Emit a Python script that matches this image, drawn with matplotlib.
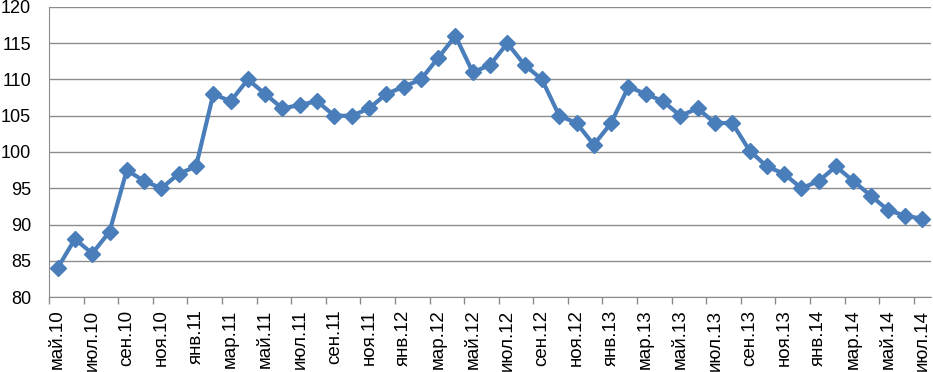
import numpy as np
import matplotlib
matplotlib.use("Agg")
import matplotlib.pyplot as plt

plt.rcParams['font.family'] = ['Liberation Sans', 'DejaVu Sans']

# monthly index values, май.10 .. июл.14
months = ["янв", "фев", "мар", "апр", "май", "июн", "июл", "авг",
          "сен", "окт", "ноя", "дек"]
start_year = 10
start_month = 4  # "май"
values = [84, 88, 86, 89, 97.5, 96, 95, 97, 98, 108, 107, 110, 108, 106, 106.5, 107,
          105, 105, 106, 108, 109, 110, 113, 116, 111, 112, 115, 112, 110, 105,
          104, 101, 104, 109, 108, 107, 105, 106, 104, 104, 100.2, 98, 97, 95,
          96, 98, 96, 94, 92, 91.2, 90.8]

labels = []
for i in range(len(values)):
    m = (start_month + i) % 12
    y = start_year + (start_month + i) // 12
    labels.append("%s.%d" % (months[m], y))

x = np.arange(len(values))

fig = plt.figure(figsize=(9.33, 3.72), dpi=100)
ax = fig.add_axes([0.0525, 0.2016, 0.9455, 0.7796])

ax.plot(x, values, color="#4A7EBB", lw=3.0, marker="D", markersize=8.5,
        markeredgecolor="#4A7EBB", markerfacecolor="#4A7EBB", zorder=3)

ax.set_ylim(80, 120)
ax.set_yticks(np.arange(80, 121, 5))
ax.yaxis.grid(True, color="#8C8C8C", lw=1.0)
ax.set_axisbelow(True)
ax.tick_params(axis="y", length=0, pad=13, labelsize=13)

ax.set_xlim(-0.5, len(values) - 0.5)
ax.set_xticks(x[::2])
ax.set_xticklabels(labels[::2], rotation=90, fontsize=13.5)
ax.set_xticks(np.arange(-0.5, len(values) - 0.5, 2), minor=True)
ax.tick_params(axis="x", which="major", length=0, pad=9)
ax.tick_params(axis="x", which="minor", length=5, color="#8C8C8C", width=1)

for s in ["top", "right"]:
    ax.spines[s].set_visible(False)
ax.spines["left"].set_color("#8C8C8C")
ax.spines["bottom"].set_color("#8C8C8C")

fig.savefig("out.png", dpi=100)
